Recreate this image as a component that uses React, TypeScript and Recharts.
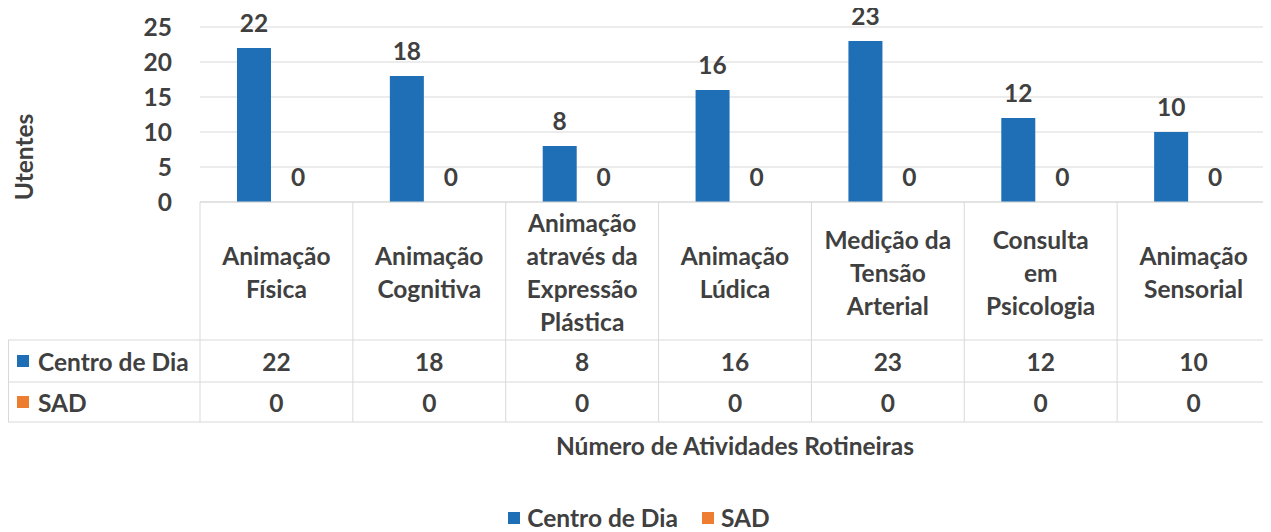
import React from "react";
import { BarChart, Bar, XAxis, YAxis, CartesianGrid, Legend, LabelList } from "recharts";

const categories = [
  "Animação\nFísica",
  "Animação\nCognitiva",
  "Animação\natravés da\nExpressão\nPlástica",
  "Animação\nLúdica",
  "Medição da\nTensão\nArterial",
  "Consulta\nem\nPsicologia",
  "Animação\nSensorial",
];
const centroDeDia = [22, 18, 8, 16, 23, 12, 10];
const sad = [0, 0, 0, 0, 0, 0, 0];
const seriesNames = ["Centro de Dia", "SAD"];
const seriesColors = ["#1f6fb7", "#ed7d31"];
const yTicks = [0, 5, 10, 15, 20, 25];
const xTitle = "Número de Atividades Rotineiras";
const yTitle = "Utentes";

const data = categories.map((c, i) => ({ name: c, centro: centroDeDia[i], sad: sad[i] }));

const W = 1263;
const H = 524;
const MARGIN = { top: 19, right: 1, left: 0, bottom: 0 };
const Y_W = 192;
const X_H = 220;
const HEAD_H = 138;
const ROW1_H = 42;
const BAND = (W - MARGIN.left - MARGIN.right - Y_W) / categories.length;
const FONT = "Lato, 'Open Sans', sans-serif";
const TXT = "#404040";
const LINE = "#d9d9d9";
const FS = 24.5;

const textStyle = { fontFamily: FONT, fontSize: FS, fontWeight: 700, fill: TXT } as const;

function TableTick(props: any) {
  const { x, y, payload } = props;
  const i = payload.index;
  const left = x - BAND / 2;
  const right = x + BAND / 2;
  const lines = String(payload.value).split("\n");
  const headCenter = y + 70;
  const r1 = y + HEAD_H;
  const r2 = y + HEAD_H + ROW1_H;
  const bottom = y + X_H;
  const vals = [centroDeDia[i], sad[i]];
  const rowCenters = [(r1 + r2) / 2, (r2 + bottom) / 2];
  return (
    <g>
      <line x1={left} y1={y} x2={left} y2={bottom} stroke={LINE} />
      {i === categories.length - 1 && <line x1={right} y1={y} x2={right} y2={bottom} stroke={LINE} />}
      <line x1={left} y1={r1} x2={right} y2={r1} stroke={LINE} />
      <line x1={left} y1={r2} x2={right} y2={r2} stroke={LINE} />
      <line x1={left} y1={bottom} x2={right} y2={bottom} stroke={LINE} />
      {lines.map((l, k) => (
        <text
          key={k}
          x={x}
          y={headCenter + (k - (lines.length - 1) / 2) * 33}
          textAnchor="middle"
          dominantBaseline="central"
          style={textStyle}
        >
          {l}
        </text>
      ))}
      {vals.map((v, k) => (
        <text key={"v" + k} x={x} y={rowCenters[k]} textAnchor="middle" dominantBaseline="central" style={textStyle}>
          {v}
        </text>
      ))}
      {i === 0 && (
        <g>
          <line x1={left - Y_W} y1={r1} x2={left} y2={r1} stroke={LINE} />
          <line x1={left - Y_W} y1={r2} x2={left} y2={r2} stroke={LINE} />
          <line x1={left - Y_W} y1={bottom} x2={left} y2={bottom} stroke={LINE} />
          <line x1={left - Y_W + 0.5} y1={r1} x2={left - Y_W + 0.5} y2={bottom} stroke={LINE} />
          {seriesNames.map((n, k) => (
            <g key={"s" + k}>
              <rect x={left - Y_W + 9} y={rowCenters[k] - 6} width={12} height={12} fill={seriesColors[k]} />
              <text x={left - Y_W + 30} y={rowCenters[k]} dominantBaseline="central" style={textStyle}>
                {n}
              </text>
            </g>
          ))}
        </g>
      )}
    </g>
  );
}

function XTitle(props: any) {
  const vb = props.viewBox || {};
  return (
    <text
      x={vb.x + vb.width / 2}
      y={vb.y + vb.height + 23}
      textAnchor="middle"
      dominantBaseline="central"
      style={textStyle}
    >
      {xTitle}
    </text>
  );
}

function YTitle() {
  return (
    <text
      x={15}
      y={149}
      transform="rotate(-90 15 149)"
      textAnchor="middle"
      dominantBaseline="central"
      style={textStyle}
    >
      {yTitle}
    </text>
  );
}

function LegendContent(props: any) {
  const payload = props.payload || [];
  return (
    <div style={{ height: 110, position: "relative" }}>
      <div
        style={{
          position: "absolute",
          top: 85,
          left: 0,
          right: 0,
          display: "flex",
          justifyContent: "center",
          gap: 24,
          fontFamily: FONT,
          fontSize: FS,
          fontWeight: 700,
          color: TXT,
          lineHeight: "22px",
        }}
      >
        {payload.map((p: any, k: number) => (
          <div key={k} style={{ display: "flex", alignItems: "center" }}>
            <span style={{ display: "inline-block", width: 12, height: 12, background: p.color, marginRight: 7 }} />
            <span>{p.value}</span>
          </div>
        ))}
      </div>
    </div>
  );
}

export default function App() {
  return (
    <div style={{ width: W, height: H, fontFamily: FONT }}>
      <BarChart width={W} height={H} data={data} margin={MARGIN} barSize={34} barGap={10}>
        <CartesianGrid vertical={false} stroke={LINE} />
        <XAxis
          dataKey="name"
          interval={0}
          height={X_H}
          tickSize={0}
          tickMargin={0}
          axisLine={{ stroke: LINE }}
          tickLine={false}
          tick={<TableTick />}
          label={<XTitle />}
        />
        <YAxis
          width={Y_W}
          domain={[0, 25]}
          ticks={yTicks}
          axisLine={false}
          tickLine={false}
          tickSize={0}
          tickMargin={28}
          tick={{ ...textStyle }}
          label={<YTitle />}
        />
        <Legend verticalAlign="bottom" height={110} content={<LegendContent />} />
        <Bar dataKey="centro" name={seriesNames[0]} fill={seriesColors[0]} isAnimationActive={false}>
          <LabelList dataKey="centro" position="top" offset={16} style={textStyle} />
        </Bar>
        <Bar dataKey="sad" name={seriesNames[1]} fill={seriesColors[1]} minPointSize={0.001} isAnimationActive={false}>
          <LabelList dataKey="sad" position="top" offset={16} style={textStyle} />
        </Bar>
      </BarChart>
    </div>
  );
}
